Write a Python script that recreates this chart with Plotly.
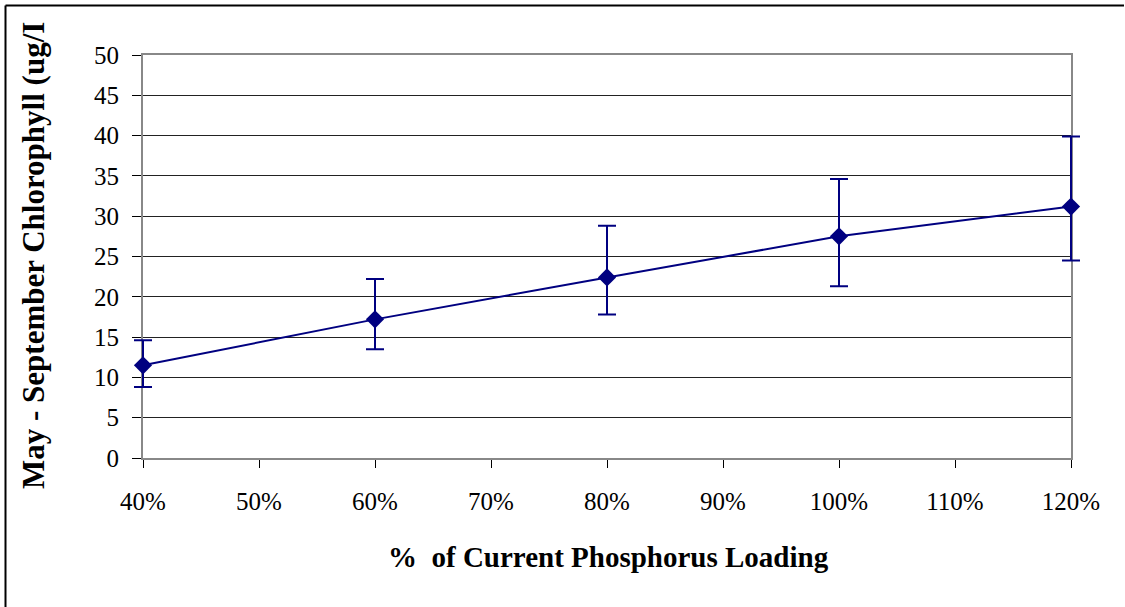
import plotly.graph_objects as go

loading = [0.4, 0.6, 0.8, 1.0, 1.2]
chl_mean = [11.5, 17.2, 22.4, 27.5, 31.2]
chl_upper = [14.6, 22.2, 28.8, 34.6, 39.9]
chl_lower = [8.8, 13.5, 17.8, 21.3, 24.5]

err_plus = [u - m for u, m in zip(chl_upper, chl_mean)]
err_minus = [m - l for m, l in zip(chl_mean, chl_lower)]

navy = "#000080"
serif = "Liberation Serif, Times New Roman, serif"

# page geometry (pixels)
W, H = 1125, 607
ML, MR, MT, MB = 123, 34, 35, 129
PW, PH = W - ML - MR, H - MT - MB
PLOT_L, PLOT_R, PLOT_T, PLOT_B = 143, 1071, 55, 458


def px_x(p):
    return (p - ML) / PW


def px_y(p):
    return (H - MB - p) / PH


x_min, x_max = 0.4, 1.2
units_per_px = (x_max - x_min) / (PLOT_R - PLOT_L)
x2_range = [x_min - (PLOT_L - ML) * units_per_px, x_max + (W - MR - PLOT_R) * units_per_px]

fig = go.Figure()
# empty trace so the visible axes (x, y) are drawn
fig.add_trace(go.Scatter(x=[], y=[], xaxis="x", yaxis="y", showlegend=False, hoverinfo="skip"))
fig.add_trace(go.Scatter(
    x=loading, y=chl_mean, mode="lines+markers",
    xaxis="x2", yaxis="y2",
    line=dict(color=navy, width=2),
    marker=dict(symbol="diamond", size=14, color=navy),
    error_y=dict(type="data", symmetric=False, array=err_plus, arrayminus=err_minus,
                 color=navy, thickness=2, width=9),
    showlegend=False, cliponaxis=False,
))

fig.update_layout(
    width=W, height=H,
    margin=dict(l=ML, r=MR, t=MT, b=MB, autoexpand=False),
    paper_bgcolor="white", plot_bgcolor="rgba(0,0,0,0)",
    font=dict(family=serif, size=25, color="black"),
    xaxis=dict(range=[x_min, x_max], dtick=0.1, tick0=0.4, tickformat=".0%",
               domain=[px_x(PLOT_L), px_x(PLOT_R)], anchor="y", automargin=False,
               showgrid=False, zeroline=False,
               showline=True, linecolor="#888888", linewidth=2, mirror=True,
               ticks="outside", ticklen=8, tickcolor="black", tickwidth=1,
               ticklabelstandoff=12,
               tickfont=dict(family=serif, size=25, color="black")),
    yaxis=dict(range=[0, 50], dtick=5, domain=[px_y(PLOT_B), px_y(PLOT_T)], anchor="x",
               automargin=False,
               showgrid=True, gridcolor="#222222", gridwidth=1,
               zeroline=False,
               showline=True, linecolor="#888888", linewidth=2, mirror=True,
               ticks="outside", ticklen=9, tickcolor="black", tickwidth=1,
               ticklabelstandoff=8,
               tickfont=dict(family=serif, size=25, color="black")),
    xaxis2=dict(range=x2_range, domain=[0, 1], anchor="y2", visible=False, automargin=False,
                showgrid=False, zeroline=False),
    yaxis2=dict(range=[0, 50], domain=[px_y(PLOT_B), px_y(PLOT_T)], anchor="x2",
                visible=False, automargin=False, showgrid=False, zeroline=False),
    annotations=[
        dict(text="<b>May - September Chlorophyll (ug/I</b>", xref="paper", yref="paper",
             x=px_x(33), y=px_y(256), xanchor="center", yanchor="middle", textangle=-90,
             showarrow=False, font=dict(family=serif, size=31, color="black")),
        dict(text="<b>% &nbsp;of Current Phosphorus Loading</b>", xref="paper", yref="paper",
             x=px_x(608), y=px_y(557), xanchor="center", yanchor="middle",
             showarrow=False, font=dict(family=serif, size=29, color="black")),
    ],
    shapes=[
        dict(type="line", xref="paper", yref="paper", x0=px_x(5.5), x1=px_x(1124), y0=px_y(5.5), y1=px_y(5.5),
             line=dict(color="black", width=2)),
        dict(type="line", xref="paper", yref="paper", x0=px_x(5.5), x1=px_x(5.5), y0=px_y(5.5), y1=px_y(612),
             line=dict(color="black", width=2)),
    ],
)

fig.write_html("out.html")
